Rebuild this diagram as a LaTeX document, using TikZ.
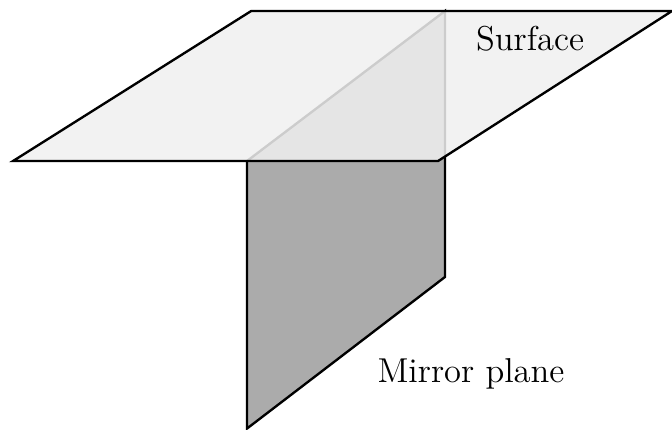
\documentclass[tikz,border=0pt]{standalone}
\usepackage{amsmath}
\begin{document}
\begin{tikzpicture}[
  planeline/.style={line width=0.8pt, line join=miter},
  mirrorplane/.style={planeline, draw=black, fill=black!33},
  surfaceplane/.style={planeline, draw=black, fill=black!6, fill opacity=0.85},
  planelabel/.style={font=\fontsize{11.7}{14}\selectfont}]
  \useasboundingbox (0,0) rectangle (8,5.107);
  % mirror plane, partly seen through the surface
  \draw[mirrorplane] (2.94,3.19) -- (5.298,4.976) -- (5.298,1.81) -- (2.94,0.005) -- cycle;
  % surface on top
  \draw[surfaceplane] (0.155,3.19) -- (2.99,4.976) -- (8,4.976) -- (5.214,3.19) -- cycle;
  % labels
  \node[planelabel] (surfacelabel) at (6.31,4.645) {Surface};
  \node[planelabel] (mirrorlabel) at (5.607,0.655) {Mirror plane};
\end{tikzpicture}
\end{document}
